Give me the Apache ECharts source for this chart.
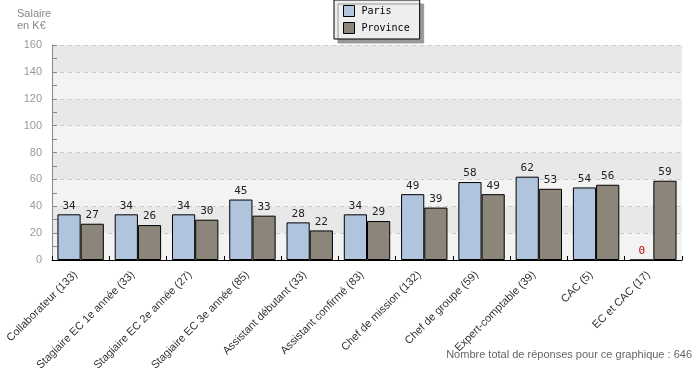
<!DOCTYPE html>
<html><head><meta charset="utf-8">
<script src="https://cdn.jsdelivr.net/npm/echarts@6/dist/echarts.min.js"></script>
<style>html,body{margin:0;padding:0;background:#fff}#c{width:700px;height:380px}</style>
</head><body><div id="c"></div>
<script>
var categories = ["Collaborateur (133)", "Stagiaire EC 1e année (33)", "Stagiaire EC 2e année (27)", "Stagiaire EC 3e année (85)", "Assistant débutant (33)", "Assistant confirmé (83)", "Chef de mission (132)", "Chef de groupe (59)", "Expert-comptable (39)", "CAC (5)", "EC et CAC (17)"];
var paris = [34, 34, 34, 45, 28, 34, 49, 58, 62, 54, 0];
var province = [27, 26, 30, 33, 22, 29, 39, 49, 53, 56, 59];
var seriesNames = ["Paris", "Province"];
var yTicks = [0, 20, 40, 60, 80, 100, 120, 140, 160];

var chart = echarts.init(document.getElementById('c'), null, {renderer: 'canvas'});
function items(arr) {
  return arr.map(function (v) {
    return v === 0 ? {value: v, label: {color: '#c00000'}} : v;
  });
}
var labelStyle = {show: true, position: 'top', distance: 3, color: '#222', fontFamily: 'DejaVu Sans Mono', fontSize: 11};
chart.setOption({
  animation: false,
  grid: {left: 52, right: 18, top: 45, bottom: 120, containLabel: false},
  legend: {
    data: seriesNames, orient: 'vertical', left: 334, top: 0,
    padding: [5, 10, 5, 9], itemGap: 5, itemWidth: 11, itemHeight: 11,
    backgroundColor: '#eeeeee', borderColor: '#000', borderWidth: 1,
    shadowColor: '#999', shadowOffsetX: 4, shadowOffsetY: 4, shadowBlur: 0,
    textStyle: {fontFamily: 'DejaVu Sans Mono', fontSize: 10, color: '#000', padding: [0, 0, 0, 2]},
    itemStyle: {borderColor: '#000', borderWidth: 1}, icon: 'rect', selectedMode: false
  },
  xAxis: {
    type: 'category', data: categories, z: 5,
    axisLine: {lineStyle: {color: '#000', width: 1}},
    axisTick: {show: true, inside: true, length: 4, lineStyle: {color: '#000'}},
    axisLabel: {rotate: 45, color: '#333', fontFamily: 'Liberation Sans', fontSize: 11, interval: 0, margin: 8, padding: [0, 7, 0, 0]},
    splitLine: {show: false}
  },
  yAxis: {
    type: 'value', min: yTicks[0], max: yTicks[yTicks.length - 1], interval: 20,
    axisLine: {show: true, lineStyle: {color: '#888'}},
    axisTick: {show: true, inside: true, length: 5, lineStyle: {color: '#888'}},
    minorTick: {show: true, splitNumber: 2, length: 5, lineStyle: {color: '#888'}},
    axisLabel: {color: '#999', fontFamily: 'Liberation Sans', fontSize: 11, margin: 10},
    splitLine: {show: true, lineStyle: {color: '#cccccc', type: [4, 4]}},
    splitArea: {show: true, areaStyle: {color: ['#f3f3f3', '#e8e8e8']}}
  },
  series: [
    {name: seriesNames[0], type: 'bar', data: items(paris), barGap: '0%', barCategoryGap: '19%',
     itemStyle: {color: '#b0c4de', borderColor: '#000', borderWidth: 1}, label: labelStyle},
    {name: seriesNames[1], type: 'bar', data: items(province), barGap: '0%', barCategoryGap: '19%',
     itemStyle: {color: '#8b857a', borderColor: '#000', borderWidth: 1}, label: labelStyle}
  ],
  graphic: [
    {type: 'text', left: 17, top: 8, style: {text: 'Salaire\nen K€', fill: '#888', font: '11px "Liberation Sans"', lineHeight: 12}},
    {type: 'text', right: 8, top: 349, style: {text: 'Nombre total de réponses pour ce graphique : 646', fill: '#666', font: '11px "Liberation Sans"'}}
  ]
});
</script></body></html>
